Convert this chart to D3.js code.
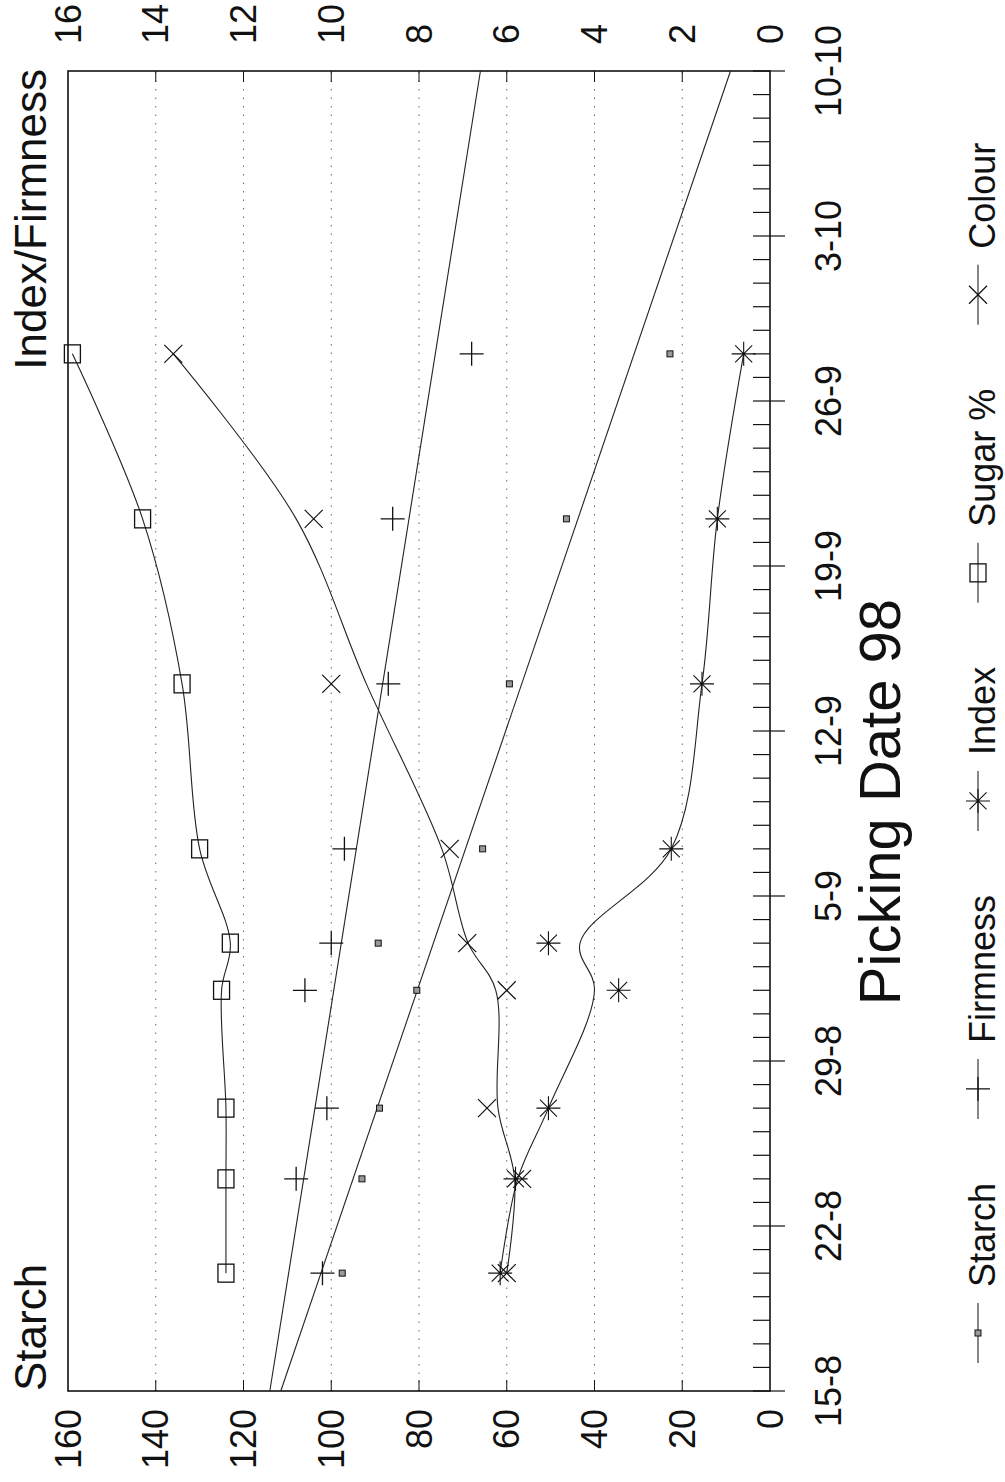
<!DOCTYPE html>
<html>
<head>
<meta charset="utf-8">
<script src="https://cdn.jsdelivr.net/npm/d3@7"></script>
<style>
  html, body { margin: 0; padding: 0; background: #fff; }
  svg text { font-family: "Liberation Sans", Arial, sans-serif; fill: #111; }
</style>
</head>
<body>
<svg id="chart" width="1005" height="1482"></svg>
<script>
// sample dates (day-month, 1998) and measured values
const sampleDates = ['20-8', '24-8', '27-8', '1-9', '3-9', '7-9', '14-9', '21-9', '28-9']
const starch   = [97.5, 93, 89, 80.5, 89.3, 65.5, 59.4, 46.4, 22.8]
const firmness = [10.2, 10.8, 10.1, 10.6, 10.0, 9.7, 8.7, 8.6, 6.8]
const index    = [6.15, 5.8, 5.05, 3.45, 5.05, 2.25, 1.55, 1.2, 0.6]
const sugar    = [12.4, 12.4, 12.4, 12.5, 12.3, 13.0, 13.4, 14.3, 15.9]
const colour   = [6.0, 5.65, 6.45, 6.0, 6.9, 7.3, 10.0, 10.4, 13.6]

// fitted curves
const indexFit  = [6.15, 5.75, 5.05, 4.0, 4.33, 2.25, 1.55, 1.2, 0.6]
const colourFit = [6.0, 5.82, 6.2, 6.25, 6.88, 7.48, 9.2, 10.8, 13.6]
const trendDates    = ['15-8', '10-10']
const starchTrend   = [111.5, 9]
const firmnessTrend = [11.4, 6.6]

// axes
const dateTicks   = ['15-8', '22-8', '29-8', '5-9', '12-9', '19-9', '26-9', '3-10', '10-10']
const starchTicks = [0, 20, 40, 60, 80, 100, 120, 140, 160]
const rightTicks  = [0, 2, 4, 6, 8, 10, 12, 14, 16]
const legendNames = ['Starch', 'Firmness', 'Index', 'Sugar %', 'Colour']

const parseDM = s => { const [d, m] = s.split('-').map(Number); return new Date(Date.UTC(1998, m - 1, d)) }

// chart is drawn landscape then turned a quarter turn
const W = 1482
const pL = 91, pR = 1411, pT = 68, pB = 770

const svg = d3.select('#chart')
const g = svg.append('g').attr('transform', `translate(0,${W}) rotate(-90)`)

const x = d3.scaleUtc().domain([parseDM('15-8'), parseDM('10-10')]).range([pL, pR])
const yS = d3.scaleLinear().domain([0, 160]).range([pB, pT])
const yR = d3.scaleLinear().domain([0, 16]).range([pB, pT])

// grid
g.append('g').selectAll('line').data(starchTicks.slice(1, -1)).join('line')
  .attr('x1', pL).attr('x2', pR)
  .attr('y1', d => yS(d)).attr('y2', d => yS(d))
  .attr('stroke', '#666').attr('stroke-width', 1).attr('stroke-dasharray', '1.5,7')

// frame
g.append('rect').attr('x', pL).attr('y', pT).attr('width', pR - pL).attr('height', pB - pT)
  .attr('fill', 'none').attr('stroke', '#111').attr('stroke-width', 1.6)

// value ticks, inside on both sides
starchTicks.slice(1, -1).forEach(v => {
  g.append('line').attr('x1', pL).attr('x2', pL + 11).attr('y1', yS(v)).attr('y2', yS(v)).attr('stroke', '#111')
  g.append('line').attr('x1', pR - 11).attr('x2', pR).attr('y1', yS(v)).attr('y2', yS(v)).attr('stroke', '#111')
})

// left axis labels
g.append('g').selectAll('text').data(starchTicks).join('text')
  .attr('x', 73).attr('y', d => yS(d)).attr('dy', '0.35em')
  .attr('text-anchor', 'end').attr('font-size', 36).text(d => d)

// right axis labels
g.append('g').selectAll('text').data(rightTicks).join('text')
  .attr('x', 1438).attr('y', d => yR(d)).attr('dy', '0.35em')
  .attr('text-anchor', 'start').attr('font-size', 36).text(d => d)

// date axis: daily minor ticks, weekly major ticks
const days = d3.utcDay.range(parseDM('15-8'), d3.utcDay.offset(parseDM('10-10'), 1))
const isMajor = d => dateTicks.some(t => +parseDM(t) === +d)
g.append('g').selectAll('line').data(days).join('line')
  .attr('x1', d => x(d)).attr('x2', d => x(d))
  .attr('y1', pB - 17)
  .attr('y2', d => isMajor(d) ? pB + 15 : pB)
  .attr('stroke', '#111').attr('stroke-width', 1.2)

g.append('g').selectAll('text').data(dateTicks).join('text')
  .attr('x', d => x(parseDM(d))).attr('y', 841)
  .attr('text-anchor', 'middle').attr('font-size', 36).text(d => d)

// titles
g.append('text').attr('x', 680).attr('y', 900).attr('text-anchor', 'middle')
  .attr('font-size', 58).text('Picking Date 98')
g.append('text').attr('x', pL).attr('y', 46).attr('font-size', 44).text('Starch')
g.append('text').attr('x', pR + 2).attr('y', 46).attr('text-anchor', 'end').attr('font-size', 44).text('Index/Firmness')

// markers
const marker = {
  Starch: sel => sel.append('rect').attr('x', -3).attr('y', -3).attr('width', 6).attr('height', 6)
    .attr('fill', '#999').attr('stroke', '#111').attr('stroke-width', 1),
  Firmness: sel => sel.append('path').attr('d', 'M-12,0H12M0,-12V12').attr('stroke', '#111').attr('stroke-width', 1.3),
  Index: sel => sel.append('path').attr('d', 'M-12,0H12M0,-12V12M-8.5,-8.5L8.5,8.5M-8.5,8.5L8.5,-8.5')
    .attr('stroke', '#111').attr('stroke-width', 1.1),
  'Sugar %': sel => sel.append('rect').attr('x', -9).attr('y', -8).attr('width', 18).attr('height', 16)
    .attr('fill', 'none').attr('stroke', '#111').attr('stroke-width', 1.3),
  Colour: sel => sel.append('path').attr('d', 'M-9,-9L9,9M-9,9L9,-9').attr('stroke', '#111').attr('stroke-width', 1.2)
}

const dates = sampleDates.map(parseDM)
const tDates = trendDates.map(parseDM)
const curve = d3.line().curve(d3.curveCatmullRom.alpha(0.5))
const straight = d3.line()

function drawLine(pts, gen) {
  g.append('path').attr('d', gen(pts)).attr('fill', 'none')
    .attr('stroke', '#222').attr('stroke-width', 1.1)
}

drawLine(tDates.map((d, i) => [x(d), yS(starchTrend[i])]), straight)
drawLine(tDates.map((d, i) => [x(d), yR(firmnessTrend[i])]), straight)
drawLine(dates.map((d, i) => [x(d), yR(indexFit[i])]), curve)
drawLine(dates.map((d, i) => [x(d), yR(sugar[i])]), curve)
drawLine(dates.map((d, i) => [x(d), yR(colourFit[i])]), curve)

const series = [
  ['Starch', starch, yS], ['Firmness', firmness, yR], ['Index', index, yR],
  ['Sugar %', sugar, yR], ['Colour', colour, yR]
]
series.forEach(([name, vals, sc]) => {
  vals.forEach((v, i) => {
    const m = g.append('g').attr('transform', `translate(${x(dates[i])},${sc(v)})`)
    marker[name](m)
  })
})

// legend
let lx = 119
const ly = 978
legendNames.forEach(name => {
  g.append('line').attr('x1', lx).attr('x2', lx + 60).attr('y1', ly).attr('y2', ly)
    .attr('stroke', '#222').attr('stroke-width', 1.1)
  marker[name](g.append('g').attr('transform', `translate(${lx + 30},${ly})`))
  const t = g.append('text').attr('x', lx + 76).attr('y', 995).attr('font-size', 36).text(name)
  lx += 76 + t.node().getComputedTextLength() + 64
})
</script>
</body>
</html>
